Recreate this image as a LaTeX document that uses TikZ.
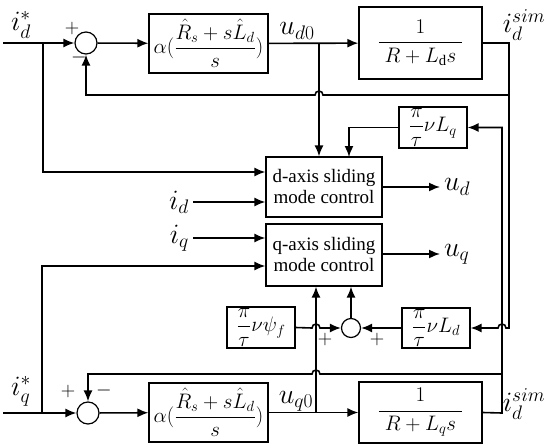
\documentclass[tikz,border=0pt]{standalone}
\usepackage{fix-cm}
\usepackage{amsmath}
\usepackage{fontspec}
\setmainfont{Liberation Serif}
\usepackage{tikz}
\usetikzlibrary{shapes, arrows.meta, positioning}

\tikzset{
  blk/.style={draw, line width=1.2pt, inner sep=0pt, align=center},
  sumnode/.style={draw, circle, line width=1.2pt, inner sep=0pt},
  arr/.style={-{Latex[length=11pt,width=9pt]}},
  lbl/.style={font=\fontsize{28}{32}\selectfont},
  sgn/.style={font=\fontsize{20}{22}\selectfont},
  fracfont/.style={font=\fontsize{21}{24}\selectfont},
  gainfont/.style={font=\fontsize{21}{24}\selectfont}
}

\begin{document}
\begin{tikzpicture}[x=1pt,y=-1pt,line width=1.6pt,font=\fontsize{19}{21}\selectfont]
\useasboundingbox (0,0) rectangle (550,447);

% d-axis loop
\node[sumnode, minimum size=22pt] (sumd) at (86,43) {};
\node[blk, fracfont,
    minimum width=119pt,
    minimum height=59pt
] (alphad) at (208.5,43.5) {$\alpha(\dfrac{\hat{R}_s+s\hat{L}_d}{s})$};
\node[blk, fracfont,
    minimum width=123pt,
    minimum height=72pt
] (plantd) at (420.5,43) {$\dfrac{1}{\;R+L_{\mathrm{d}}s\;}$};

% sliding mode blocks
\node[blk,
    minimum width=116pt,
    minimum height=60pt
] (dsmc) at (324,187) {d-axis sliding\\mode control};
\node[blk,
    minimum width=116pt,
    minimum height=62pt
] (qsmc) at (324,255) {q-axis sliding\\mode control};

% coupling terms
\node[blk, gainfont, minimum width=68pt, minimum height=41pt] (lq) at (433,127.5) {$\dfrac{\pi}{\tau}\nu L_q$};
\node[blk, gainfont, minimum width=68pt, minimum height=40pt] (ld) at (436,328) {$\dfrac{\pi}{\tau}\nu L_d$};
\node[blk, gainfont, minimum width=68pt, minimum height=41pt] (psif) at (261,327.5) {$\dfrac{\pi}{\tau}\nu \psi_f$};
\node[sumnode, minimum size=19pt] (sumc) at (351,328) {};

% q-axis loop
\node[sumnode, minimum size=22pt] (sumq) at (88,413) {};
\node[blk, fracfont,
    minimum width=119pt,
    minimum height=59pt
] (alphaq) at (208.5,412.5) {$\alpha(\dfrac{\hat{R}_s+s\hat{L}_d}{s})$};
\node[blk, fracfont,
    minimum width=123pt,
    minimum height=61pt
] (plantq) at (420.5,412.5) {$\dfrac{1}{\;R+L_q s\;}$};

% points
\coordinate (ind) at (3,43);
\coordinate (bd) at (43,43);
\coordinate (ud0) at (319,43);
\coordinate (rd) at (509,43);
\coordinate (inq) at (3,413);
\coordinate (bq) at (42,413);
\coordinate (uq0) at (316,413);
\coordinate (rq) at (502,413);
\coordinate (idin) at (193,202);
\coordinate (iqin) at (193,238);
\coordinate (udout) at (440,187);
\coordinate (uqout) at (440,254);

% Arrows
\draw [arr] (ind) -- (sumd.west);
\draw [arr] (sumd) -- (alphad);
\draw [arr] (alphad) -- (plantd);
\draw [arr] (plantd.east) -- (rd) -- (rd |- ld) -- (506,328) arc (0:-180:4) -- (ld.east);
\draw [arr] (rd |- 0,95) -- (323,95) arc (0:-180:4) -- (sumd |- 0,95) -- (sumd.south);
\draw [arr] (bd) |- (dsmc.west |- 0,172);
\draw [arr] (ud0) -- (ud0 |- dsmc.north);
\draw [arr] (lq.west) -| (349,157);
\draw [arr] (idin) -- (dsmc.west |- idin);
\draw [arr] (iqin) -- (qsmc.west |- iqin);
\draw [arr] (dsmc.east |- udout) -- (udout);
\draw [arr] (qsmc.east |- uqout) -- (uqout);

\draw [arr] (inq) -- (sumq.west);
\draw [arr] (sumq) -- (alphaq);
\draw [arr] (alphaq) -- (plantq);
\draw [arr] (plantq.east) -- (rq) -- (rq |- lq) -- (lq.east);
\draw [arr] (rq |- 0,374) -- (320,374) arc (0:-180:4) -- (sumq |- 0,374) -- (sumq.north);
\draw [arr] (bq) |- (qsmc.west |- 0,266);
\draw [arr] (uq0) -- (uq0 |- qsmc.south);
\draw [arr] (psif.east) -- (312,328) arc (180:360:4) -- (sumc.west);
\draw [arr] (ld.west) -- (sumc.east);
\draw [arr] (sumc.north) -- (sumc |- qsmc.south);

% Labels
\node[lbl] (lidref) at (21,25) {$i_d^{*}$};
\node[sgn] (pd) at (72,29) {$+$};
\node[sgn] (md) at (79,58) {$-$};
\node[lbl] (lud0) at (297,31) {$u_{d0}$};
\node[lbl] (lidsim) at (524,25) {$i_d^{sim}$};
\node[lbl, anchor=east] (lid) at (idin) {$i_d$};
\node[lbl, anchor=east] (liq) at (iqin) {$i_q$};
\node[lbl, anchor=west] (lud) at (udout) {$u_d$};
\node[lbl, anchor=west] (luq) at (uqout) {$u_q$};
\node[sgn] (pc1) at (325,339) {$+$};
\node[sgn] (pc2) at (377,339) {$+$};
\node[lbl] (liqref) at (21,391) {$i_q^{*}$};
\node[sgn] (pq) at (68,391) {$+$};
\node[sgn] (mq) at (104,390) {$-$};
\node[lbl] (luq0) at (296,401) {$u_{q0}$};
\node[lbl] (lidsimq) at (524,404) {$i_d^{sim}$};
\end{tikzpicture}
\end{document}
